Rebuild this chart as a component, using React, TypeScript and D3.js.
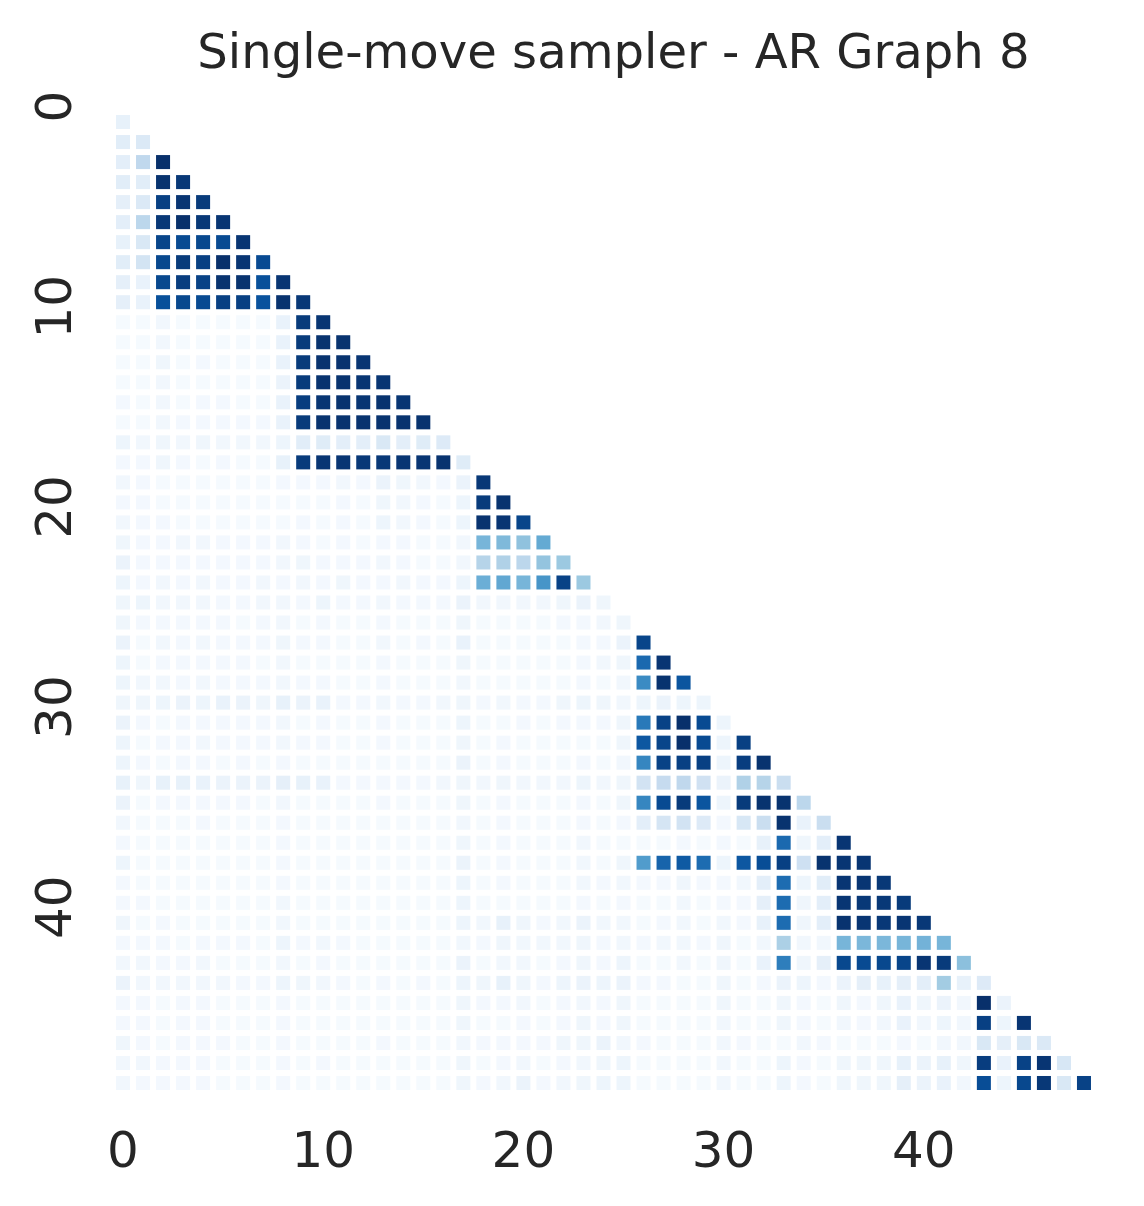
import React from "react";
import * as d3 from "d3";

const title = "Single-move sampler - AR Graph 8";
const tickValues = [0, 10, 20, 30, 40];
const blues = ["#f7fbff", "#deebf7", "#c6dbef", "#9ecae1", "#6baed6", "#4292c6", "#2171b5", "#08519c", "#08306b"];

// Each row holds the cells left of the diagonal, in percent of the colour range.
const row01 = [8];
const row02 = [11, 14];
const row03 = [10, 27, 100];
const row04 = [11, 11, 99, 97];
const row05 = [9, 14, 94, 98, 96];
const row06 = [10, 28, 97, 100, 97, 98];
const row07 = [8, 15, 92, 90, 91, 90, 98];
const row08 = [11, 18, 91, 96, 94, 100, 98, 90];
const row09 = [9, 7, 91, 95, 93, 99, 99, 88, 98];
const row10 = [9, 7, 88, 91, 90, 94, 94, 87, 99, 97];
const row11 = [1, 1, 3, 1, 1, 1, 1, 1, 7, 96, 98];
const row12 = [1, 1, 3, 1, 1, 1, 1, 1, 7, 96, 99, 99];
const row13 = [1, 1, 4, 1, 2, 1, 1, 1, 7, 96, 99, 99, 98];
const row14 = [1, 1, 3, 1, 1, 1, 1, 1, 6, 96, 99, 99, 98, 98];
const row15 = [2, 1, 3, 1, 2, 2, 1, 1, 7, 95, 98, 99, 98, 99, 98];
const row16 = [1, 1, 3, 2, 2, 2, 2, 2, 7, 96, 99, 99, 99, 99, 99, 99];
const row17 = [5, 3, 4, 3, 4, 3, 3, 3, 5, 11, 12, 10, 10, 15, 10, 12, 13];
const row18 = [2, 2, 4, 2, 1, 2, 1, 1, 8, 96, 98, 98, 97, 97, 98, 98, 99, 12];
const row19 = [3, 2, 1, 1, 1, 1, 1, 1, 2, 2, 2, 3, 2, 6, 4, 3, 2, 6, 97];
const row20 = [2, 2, 1, 1, 1, 1, 1, 1, 1, 1, 1, 2, 1, 4, 3, 2, 1, 5, 96, 99];
const row21 = [3, 2, 2, 1, 1, 1, 1, 1, 1, 2, 1, 2, 1, 5, 3, 2, 1, 5, 99, 98, 92];
const row22 = [4, 2, 2, 3, 3, 2, 2, 2, 3, 2, 1, 2, 1, 2, 2, 1, 1, 3, 47, 45, 41, 52];
const row23 = [6, 2, 2, 2, 2, 2, 2, 2, 3, 4, 2, 2, 2, 3, 2, 1, 1, 3, 30, 32, 28, 40, 38];
const row24 = [5, 2, 3, 2, 3, 2, 2, 3, 2, 3, 2, 4, 2, 2, 3, 2, 2, 5, 50, 53, 47, 61, 93, 38];
const row25 = [4, 5, 3, 3, 3, 2, 2, 3, 3, 2, 5, 2, 2, 3, 2, 2, 2, 6, 3, 3, 3, 3, 4, 6, 4];
const row26 = [4, 2, 2, 2, 2, 2, 1, 2, 3, 1, 2, 1, 1, 2, 1, 1, 1, 4, 1, 1, 1, 1, 2, 2, 3, 4];
const row27 = [6, 1, 3, 2, 3, 2, 2, 2, 4, 2, 2, 1, 1, 3, 1, 2, 1, 7, 1, 1, 1, 1, 1, 2, 2, 6, 92];
const row28 = [5, 1, 2, 2, 2, 2, 2, 1, 3, 1, 1, 1, 1, 2, 1, 1, 1, 4, 1, 1, 1, 1, 1, 2, 3, 4, 78, 98];
const row29 = [5, 3, 3, 2, 3, 2, 2, 2, 3, 2, 2, 1, 1, 2, 1, 1, 1, 3, 1, 1, 1, 1, 1, 2, 1, 3, 65, 99, 86];
const row30 = [4, 4, 5, 6, 5, 7, 6, 4, 8, 6, 7, 2, 2, 3, 2, 2, 3, 4, 2, 3, 2, 2, 4, 5, 4, 3, 5, 6, 5, 5];
const row31 = [6, 2, 1, 2, 2, 2, 2, 2, 3, 1, 2, 1, 1, 2, 1, 1, 1, 5, 1, 1, 2, 1, 2, 2, 2, 4, 72, 93, 100, 90, 5];
const row32 = [5, 1, 2, 2, 3, 2, 2, 2, 3, 2, 2, 1, 1, 2, 1, 1, 1, 4, 1, 2, 1, 1, 1, 1, 1, 4, 85, 92, 100, 90, 5, 94];
const row33 = [5, 2, 1, 2, 2, 1, 2, 1, 2, 1, 1, 1, 1, 1, 1, 1, 1, 6, 1, 2, 1, 1, 1, 2, 1, 3, 67, 93, 94, 94, 5, 95, 99];
const row34 = [8, 4, 8, 8, 7, 6, 6, 6, 9, 8, 7, 2, 2, 2, 2, 2, 3, 4, 3, 4, 3, 3, 3, 5, 3, 4, 19, 25, 27, 20, 6, 32, 30, 23];
const row35 = [6, 1, 2, 2, 2, 2, 2, 1, 3, 1, 1, 1, 1, 2, 1, 1, 1, 4, 1, 2, 1, 1, 1, 2, 1, 4, 67, 90, 96, 86, 5, 96, 99, 99, 28];
const row36 = [3, 1, 1, 1, 2, 1, 1, 1, 2, 1, 1, 1, 1, 1, 1, 1, 1, 3, 1, 2, 1, 1, 1, 2, 1, 2, 10, 17, 19, 13, 2, 16, 23, 99, 7, 23];
const row37 = [2, 1, 1, 1, 1, 1, 1, 1, 2, 1, 1, 1, 1, 1, 1, 1, 1, 4, 1, 2, 1, 1, 1, 3, 1, 1, 1, 1, 2, 1, 2, 1, 8, 78, 4, 10, 98];
const row38 = [5, 1, 1, 1, 1, 1, 1, 1, 2, 1, 1, 1, 1, 1, 1, 1, 1, 6, 1, 2, 1, 1, 1, 3, 1, 4, 58, 80, 84, 77, 5, 85, 89, 94, 21, 99, 98, 98];
const row39 = [2, 1, 1, 1, 1, 1, 1, 1, 2, 1, 1, 1, 1, 1, 1, 1, 1, 5, 1, 2, 1, 1, 1, 3, 2, 3, 2, 2, 4, 2, 2, 3, 10, 77, 5, 11, 98, 98, 97];
const row40 = [2, 2, 1, 1, 1, 1, 1, 1, 3, 1, 1, 1, 1, 1, 1, 1, 1, 5, 1, 1, 1, 1, 1, 2, 1, 2, 1, 1, 3, 1, 2, 2, 9, 77, 4, 10, 98, 97, 97, 96];
const row41 = [4, 1, 2, 1, 1, 1, 1, 1, 3, 1, 1, 1, 1, 1, 1, 1, 1, 5, 3, 8, 4, 2, 3, 6, 3, 3, 1, 2, 3, 1, 3, 2, 8, 77, 4, 10, 99, 98, 97, 98, 97];
const row42 = [2, 2, 2, 1, 2, 2, 2, 1, 5, 2, 3, 2, 1, 1, 1, 1, 1, 3, 2, 4, 3, 3, 3, 4, 2, 3, 2, 3, 3, 2, 4, 1, 3, 33, 3, 3, 47, 46, 46, 47, 48, 47];
const row43 = [3, 3, 2, 2, 3, 1, 1, 1, 3, 1, 2, 1, 1, 1, 1, 1, 1, 6, 1, 3, 3, 1, 2, 4, 2, 5, 1, 1, 3, 1, 4, 1, 7, 70, 4, 9, 91, 90, 91, 92, 98, 96, 42];
const row44 = [6, 3, 3, 3, 3, 3, 2, 2, 5, 4, 3, 2, 1, 2, 1, 2, 1, 5, 4, 8, 4, 2, 5, 6, 5, 6, 2, 2, 1, 1, 4, 1, 2, 6, 5, 2, 6, 9, 8, 9, 10, 36, 8, 13];
const row45 = [2, 2, 1, 2, 2, 1, 1, 1, 2, 1, 1, 1, 1, 1, 1, 1, 1, 4, 2, 2, 3, 1, 2, 3, 2, 4, 1, 1, 1, 1, 4, 1, 1, 4, 2, 1, 4, 2, 4, 7, 4, 6, 3, 100, 6];
const row46 = [2, 2, 1, 2, 2, 1, 1, 1, 2, 1, 1, 1, 1, 1, 1, 1, 1, 4, 1, 1, 2, 1, 2, 4, 2, 4, 1, 1, 1, 1, 3, 1, 1, 4, 2, 1, 3, 2, 3, 7, 3, 5, 3, 94, 5, 98];
const row47 = [4, 2, 1, 2, 2, 2, 1, 1, 2, 1, 1, 1, 1, 2, 1, 1, 1, 3, 2, 2, 2, 2, 4, 4, 6, 3, 2, 1, 1, 1, 3, 2, 1, 1, 3, 2, 1, 1, 1, 2, 1, 3, 3, 15, 9, 15, 14];
const row48 = [3, 3, 2, 2, 2, 1, 1, 1, 2, 1, 2, 1, 1, 1, 1, 1, 1, 4, 1, 2, 3, 1, 2, 3, 4, 5, 1, 1, 1, 1, 3, 1, 1, 5, 2, 1, 4, 4, 4, 8, 6, 8, 4, 95, 7, 93, 98, 16];
const row49 = [3, 2, 2, 2, 2, 1, 1, 1, 2, 1, 1, 1, 1, 1, 1, 1, 1, 4, 2, 3, 6, 2, 3, 4, 5, 5, 1, 1, 1, 1, 3, 1, 1, 5, 2, 1, 4, 4, 4, 9, 6, 7, 3, 89, 5, 91, 97, 15, 93];

const rows = [
  row01, row02, row03, row04, row05, row06, row07, row08, row09, row10,
  row11, row12, row13, row14, row15, row16, row17, row18, row19, row20,
  row21, row22, row23, row24, row25, row26, row27, row28, row29, row30,
  row31, row32, row33, row34, row35, row36, row37, row38, row39, row40,
  row41, row42, row43, row44, row45, row46, row47, row48, row49,
];

const indices = d3.range(50);
const x = d3.scaleBand<number>().domain(indices).range([113, 1114]).paddingInner(0.3).paddingOuter(0.15);
const y = d3.scaleBand<number>().domain(indices).range([92, 1093]).paddingInner(0.3).paddingOuter(0.15);
const color = d3
  .scaleLinear<string>()
  .domain(blues.map((_, i) => (i / (blues.length - 1)) * 100))
  .range(blues)
  .interpolate(d3.interpolateRgb);

const textColor = "#262626";
const font = "'DejaVu Sans', sans-serif";

export default function App() {
  return (
    <svg
      width={1144}
      height={1206}
      viewBox="0 0 1144 1206"
      style={{ position: "absolute", left: 0, top: 0, background: "#fff" }}
      fontFamily={font}
    >
      <text x={613.5} y={67.5} textAnchor="middle" fontSize={48.1} fill={textColor}>
        {title}
      </text>
      {rows.map((row, r) =>
        row.map((v, c) => (
          <rect
            key={`${r + 1}-${c}`}
            x={x(c)}
            y={y(r + 1)}
            width={x.bandwidth()}
            height={y.bandwidth()}
            fill={color(v)}
          />
        )),
      )}
      {tickValues.map((t) => (
        <text
          key={`x${t}`}
          x={(x(t) as number) + x.bandwidth() / 2}
          y={1167}
          textAnchor="middle"
          fontSize={50}
          fill={textColor}
        >
          {t}
        </text>
      ))}
      {tickValues.map((t) => {
        const cy = (y(t) as number) + y.bandwidth() / 2 + 4.5;
        return (
          <text
            key={`y${t}`}
            transform={`translate(70.5,${cy}) rotate(-90)`}
            textAnchor="middle"
            fontSize={50}
            fill={textColor}
          >
            {t}
          </text>
        );
      })}
    </svg>
  );
}
